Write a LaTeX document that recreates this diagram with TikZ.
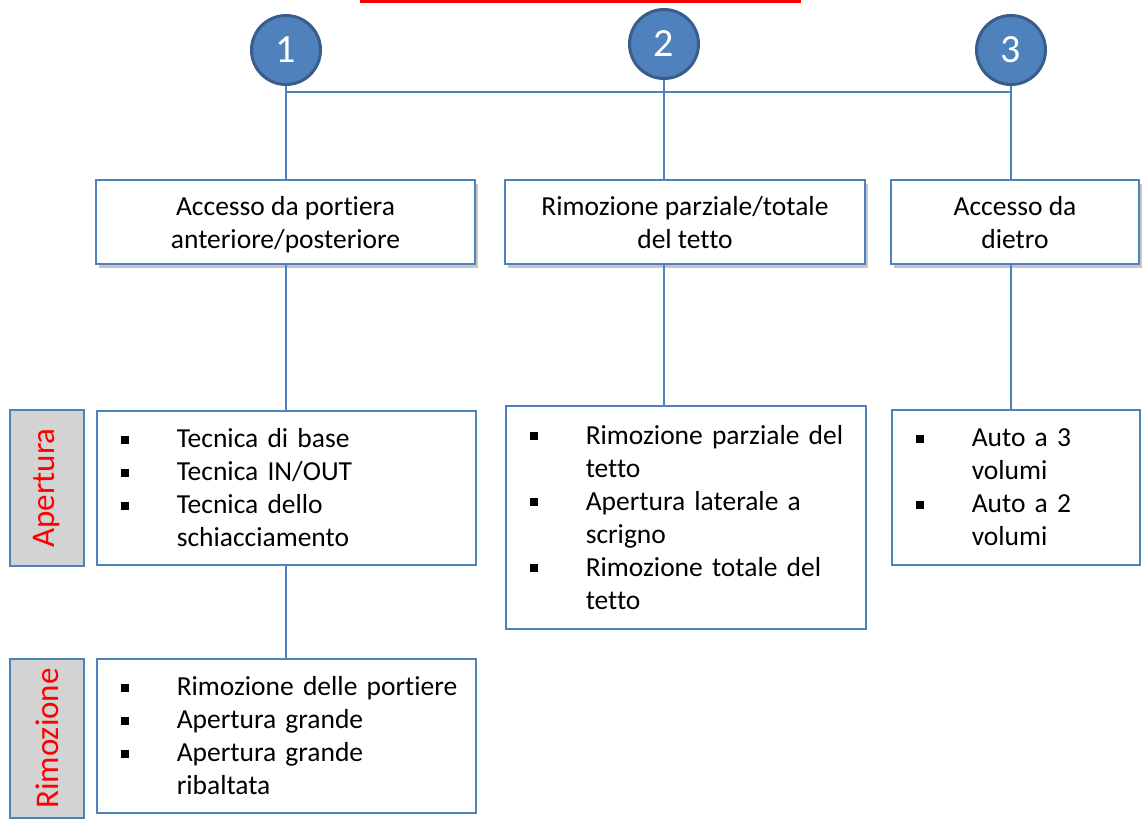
\documentclass[tikz,border=0pt]{standalone}
\usepackage{fontspec}
\setmainfont{Carlito}[Ligatures=NoCommon]
\usetikzlibrary{positioning,shadows}
\definecolor{azzurro}{HTML}{4F81BD}
\definecolor{bluscuro}{HTML}{385D8A}
\definecolor{grigio}{HTML}{D3D3D3}
\newcommand{\bul}{\makebox[68pt][l]{\hspace*{12pt}\rule[4pt]{8pt}{8pt}}}
\newcommand{\rientro}{\hspace*{68pt}}
\newcommand{\alto}{\rule{0pt}{27pt}}
\newcommand{\puntello}{\rule[-8pt]{0pt}{8pt}}

\begin{document}
\begin{tikzpicture}[x=1pt, y=-1pt, font=\fontsize{27.5}{33}\selectfont,
    numero/.style={circle, draw=bluscuro, line width=3pt, fill=azzurro, minimum size=69pt,
                   inner sep=0pt, text=white, font=\fontsize{40}{48}\selectfont},
    titolo/.style={draw=azzurro, line width=1.5pt, fill=white, minimum height=84pt, align=center,
                   drop shadow={shadow xshift=3pt, shadow yshift=-4pt, opacity=0.45}},
    lista/.style={draw=azzurro, line width=1.5pt, fill=white, anchor=north west, align=left,
                  inner xsep=12pt, inner ysep=0pt},
    lato/.style={draw=azzurro, line width=1.5pt, fill=grigio, rotate=90, minimum height=74pt,
                 text=red, font=\fontsize{33}{40}\selectfont},
    filo/.style={azzurro, line width=1.5pt}]
    \useasboundingbox (0,0) rectangle (1144,820);
    % bordo del titolo, tagliato in alto
    \draw[red, line width=3pt] (360,1) -- (801,1);
    % i tre modi di accesso
    \node[numero] (c1) at (286,50) {1};
    \node[numero] (c2) at (664,44) {2};
    \node[numero] (c3) at (1011,50) {3};
    \coordinate (barra) at (0,92);
    \node[titolo, minimum width=379pt] (a1) at (285.5,222) {\alto Accesso da portiera\\anteriore/posteriore\puntello};
    \node[titolo, minimum width=360pt] (a2) at (685,222) {\alto Rimozione parziale/totale\\del tetto\puntello};
    \node[titolo, minimum width=248pt] (a3) at (1015,222) {\alto Accesso da\\dietro\puntello};
    % elenchi
    \node[lista, text width=355pt, minimum height=154pt] (d) at (96,410)
      {\bul Tecnica di base\\ \bul Tecnica IN/OUT\\ \bul Tecnica dello\\ \rientro schiacciamento};
    \node[lista, text width=355pt, minimum height=154pt] (e) at (96,658)
      {\bul Rimozione delle portiere\\ \bul Apertura grande\\ \bul Apertura grande\\ \rientro ribaltata};
    \node[lista, text width=336pt, minimum height=223pt] (f) at (505,405)
      {\bul Rimozione parziale del\\ \rientro tetto\\ \bul Apertura laterale a\\ \rientro scrigno\\
       \bul Rimozione totale del\\ \rientro tetto};
    \node[lista, text width=224pt, minimum height=155pt] (g) at (891,409)
      {\bul Auto a 3\\ \rientro volumi\\ \bul Auto a 2\\ \rientro volumi};
    % etichette a sinistra
    \node[lato, minimum width=156pt] (l1) at (47,488) {Apertura};
    \node[lato, minimum width=159pt] (l2) at (47,738.5) {Rimozione};
    % collegamenti
    \draw[filo] (c1.south |- barra) -- (c3.south |- barra);
    \draw[filo] (c1.south) -- (c1.south |- a1.north);
    \draw[filo] (c2.south) -- (c2.south |- a2.north);
    \draw[filo] (c3.south) -- (c3.south |- a3.north);
    \draw[filo] (c1.south |- a1.south) -- (c1.south |- d.north);
    \draw[filo] (c1.south |- d.south) -- (c1.south |- e.north);
    \draw[filo] (c2.south |- a2.south) -- (c2.south |- f.north);
    \draw[filo] (c3.south |- a3.south) -- (c3.south |- g.north);
\end{tikzpicture}
\end{document}
